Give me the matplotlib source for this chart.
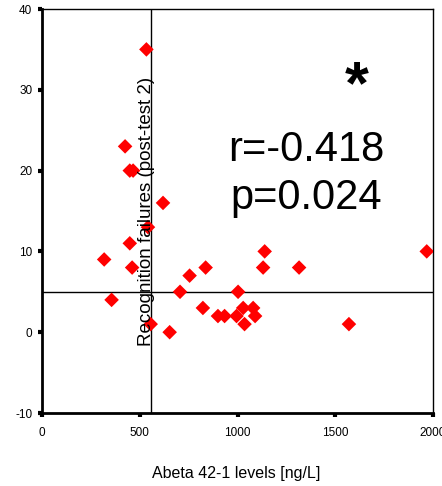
import matplotlib
matplotlib.use('Agg')
import matplotlib.pyplot as plt

plt.rcParams['font.family'] = ['Liberation Sans', 'DejaVu Sans']
plt.rcParams['axes.unicode_minus'] = False

# Abeta 42-1 levels [ng/L] vs recognition failures
abeta = [534, 425, 449, 466, 619, 542, 449, 318, 461, 356, 556, 653, 706, 755,
         837, 823, 900, 934, 995, 1003, 1029, 1080, 1090, 1036, 1139, 1131,
         1315, 1570, 1968]
failures = [35, 23, 20, 20, 16, 13, 11, 9, 8, 4, 1, 0, 5, 7,
            8, 3, 2, 2, 2, 5, 3, 3, 2, 1, 10, 8,
            8, 1, 10]

x_cut = 556
y_cut = 5
xticks = [0, 500, 1000, 1500, 2000]
yticks = [-10, 0, 10, 20, 30, 40]

fig = plt.figure(figsize=(4.42, 4.86), dpi=100)
ax = fig.add_axes([42 / 442, 73 / 486, 391 / 442, 404 / 486])

ax.scatter(abeta, failures, marker='D', s=55, color='#ff0000', edgecolors='none', zorder=3)
ax.axvline(x_cut, color='black', lw=1)
ax.axhline(y_cut, color='black', lw=1)

ax.set_xlim(0, 2000)
ax.set_ylim(-10, 40)
ax.set_xticks(xticks)
ax.set_yticks(yticks)
ax.tick_params(direction='out', length=3, width=3, labelsize=8.5)
ax.tick_params(axis='x', pad=7)
ax.tick_params(axis='y', pad=4)
for s in ax.spines.values():
    s.set_linewidth(1)
ax.spines['left'].set_linewidth(2)
ax.spines['bottom'].set_linewidth(2)

ax.text(x_cut - 20, 15, 'Recognition failures (post-test 2)', rotation=90,
        ha='center', va='center', fontsize=13.5)
fig.text(236 / 442, 1 - 473 / 486, 'Abeta 42-1 levels [ng/L]', ha='center', va='center',
         fontsize=11.5)

ax.text(0.805, 0.805, '*', transform=ax.transAxes, ha='center', va='center', fontsize=44,
        fontweight='bold')
ax.text(0.675, 0.651, 'r=-0.418', transform=ax.transAxes, ha='center', va='center', fontsize=30)
ax.text(0.675, 0.532, 'p=0.024', transform=ax.transAxes, ha='center', va='center', fontsize=30)

fig.savefig('out.png', dpi=100)
